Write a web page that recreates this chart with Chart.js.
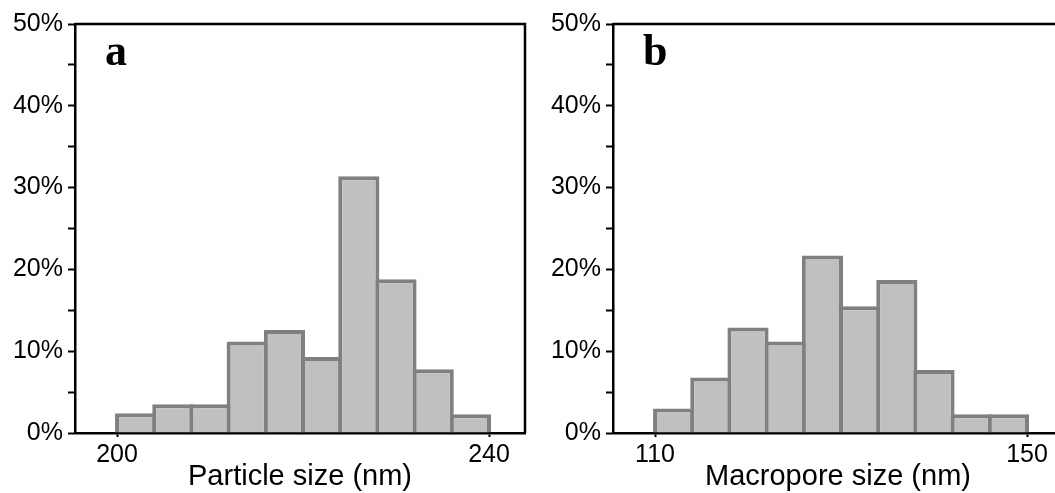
<!DOCTYPE html>
<html>
<head>
<meta charset="utf-8">
<title>Size distributions</title>
<script src="https://cdn.jsdelivr.net/npm/chart.js@4.4.1/dist/chart.umd.min.js"></script>
<style>
  html, body { margin: 0; padding: 0; background: #fff; overflow: hidden; width: 1055px; height: 493px; }
  .panel { position: absolute; top: 0; width: 540px; height: 493px; }
</style>
</head>
<body>
<div class="panel" style="left:0"><canvas id="chartA"></canvas></div>
<div class="panel" style="left:540px"><canvas id="chartB"></canvas></div>
<script>
// histogram data, bins are 4 nm wide, values in percent
var binWidth = 4;
var particleBins = [200, 204, 208, 212, 216, 220, 224, 228, 232, 236];
var particleShare = [2.4, 3.5, 3.5, 11.2, 12.6, 9.3, 31.4, 18.8, 7.8, 2.3];
var poreBins = [110, 114, 118, 122, 126, 130, 134, 138, 142, 146];
var poreShare = [3.0, 6.8, 12.9, 11.2, 21.7, 15.5, 18.7, 7.7, 2.3, 2.3];
var particleTicks = [200, 240];
var poreTicks = [110, 150];

var sans = '"Liberation Sans", Arial, sans-serif';

var framePlugin = {
    id: 'frame',
    afterDraw: function(chart, args, opts) {
        var a = chart.chartArea, ctx = chart.ctx;
        ctx.save();
        ctx.strokeStyle = '#000';
        ctx.lineWidth = 2.5;
        ctx.beginPath();
        ctx.moveTo(a.left, a.top);
        ctx.lineTo(a.right, a.top);
        ctx.lineTo(a.right, a.bottom);
        ctx.stroke();
        ctx.fillStyle = '#000';
        ctx.font = 'bold 44px "Liberation Serif", "Times New Roman", serif';
        ctx.textBaseline = 'alphabetic';
        ctx.fillText(opts.letter, a.left + 30, 65);
        ctx.restore();
    }
};

function makeHist(id, bins, shares, ticks, xMin, xMax, title, letter, yWidth, padRight) {
    var pts = bins.map(function(b, i) { return { x: b + binWidth / 2, y: shares[i] }; });
    return new Chart(document.getElementById(id), {
        type: 'bar',
        data: {
            datasets: [{
                data: pts,
                backgroundColor: '#c0c0c0',
                borderColor: '#808080',
                borderWidth: 4,
                barPercentage: 1.107,
                categoryPercentage: 1
            }]
        },
        options: {
            responsive: true,
            maintainAspectRatio: false,
            animation: false,
            layout: { padding: { top: 24, right: padRight, left: 0, bottom: 0 } },
            plugins: {
                legend: { display: false },
                tooltip: { enabled: false },
                frame: { letter: letter }
            },
            scales: {
                x: {
                    type: 'linear',
                    min: xMin,
                    max: xMax,
                    offset: false,
                    z: 1,
                    afterBuildTicks: function(s) { s.ticks = ticks.map(function(v) { return { value: v }; }); },
                    afterFit: function(s) { s.height = 60; },
                    ticks: { color: '#000', font: { family: sans, size: 25 }, padding: 3, maxRotation: 0, autoSkip: false },
                    grid: { offset: false, drawOnChartArea: false, tickLength: 4, tickColor: '#000', tickWidth: 2 },
                    border: { color: '#000', width: 2.5 },
                    title: { display: true, text: title, color: '#000', font: { family: sans, size: 29, lineHeight: 1.1 }, padding: { top: 0, bottom: 0 } }
                },
                y: {
                    min: 0,
                    max: 50,
                    afterFit: function(s) { s.width = yWidth; },
                    ticks: {
                        stepSize: 5,
                        autoSkip: false,
                        color: '#000',
                        font: { family: sans, size: 25 },
                        padding: 5,
                        callback: function(v) { return v % 10 === 0 ? v + '%' : ''; }
                    },
                    grid: { drawOnChartArea: false, tickLength: 7, tickColor: '#000', tickWidth: 2 },
                    border: { color: '#000', width: 2.5 }
                }
            }
        },
        plugins: [framePlugin]
    });
}

makeHist('chartA', particleBins, particleShare, particleTicks, 195.48, 243.87, 'Particle size (nm)', 'a', 75, 15);
makeHist('chartB', poreBins, poreShare, poreTicks, 105.48, 153.87, 'Macropore size (nm)', 'b', 73, 17);
</script>
</body>
</html>
